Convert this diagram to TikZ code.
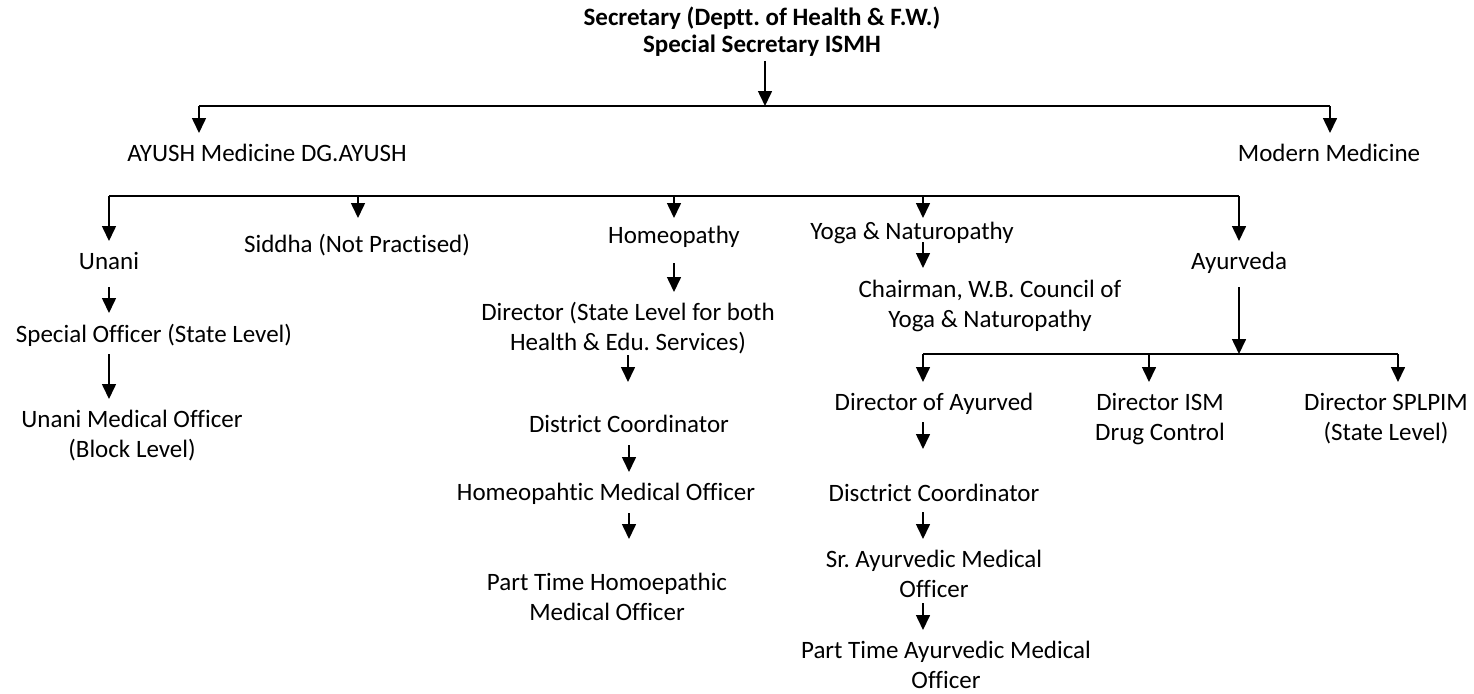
\documentclass[tikz,border=0pt]{standalone}
\usepackage{fontspec}
\setmainfont{Carlito}[Ligatures={NoCommon}]
\usetikzlibrary{arrows.meta}
\frenchspacing
\tikzset{
  txt/.style={inner sep=0pt, outer sep=0pt, align=center, anchor=north, font=\fontsize{25}{30}\selectfont},
  toptxt/.style={inner sep=0pt, outer sep=0pt, align=center, anchor=north, font=\bfseries\fontsize{25}{27}\selectfont},
  ln/.style={line width=1.6pt},
  arr/.style={line width=1.6pt, -{Triangle[length=15pt,width=14pt]}},
}
\begin{document}
\begin{tikzpicture}[x=1pt,y=-1pt]
\useasboundingbox (0,0) rectangle (1474,693);
% nodes
\node[toptxt] (sec) at (762,7) {\strut Secretary (Deptt. of Health \& F.W.)\\\strut Special Secretary ISMH};
\node[txt] (ayush) at (267,140) {\strut AYUSH Medicine DG.AYUSH};
\node[txt] (modern) at (1329,140) {\strut Modern Medicine};
\node[txt] (unani) at (109,248) {\strut Unani};
\node[txt] (siddha) at (357,231) {\strut Siddha (Not Practised)};
\node[txt] (homeo) at (674,222) {\strut Homeopathy};
\node[txt] (yoga) at (912,218) {\strut Yoga \& Naturopathy};
\node[txt] (ayur) at (1239,248) {\strut Ayurveda};
\node[txt] (spo) at (154,321) {\strut Special Officer (State Level)};
\node[txt] (umo) at (132,406) {\strut Unani Medical Officer\\\strut (Block Level)};
\node[txt] (dir) at (628,299) {\strut Director (State Level for both\\\strut Health \& Edu. Services)};
\node[txt] (dc) at (629,411) {\strut District Coordinator};
\node[txt] (hmo) at (606,479) {\strut Homeopahtic Medical Officer};
\node[txt] (pth) at (607,569) {\strut Part Time Homoepathic\\\strut Medical Officer};
\node[txt] (chair) at (990,276) {\strut Chairman, W.B. Council of\\\strut Yoga \& Naturopathy};
\node[txt] (doa) at (934,389) {\strut Director of Ayurved};
\node[txt] (ism) at (1160,389) {\strut Director ISM\\\strut Drug Control};
\node[txt] (spl) at (1386,389) {\strut Director SPLPIM\\\strut (State Level)};
\node[txt] (dcc) at (934,480) {\strut Disctrict Coordinator};
\node[txt] (sr) at (934,546) {\strut Sr. Ayurvedic Medical\\\strut Officer};
\node[txt] (pta) at (946,637) {\strut Part Time Ayurvedic Medical\\\strut Officer};
% bus coordinates
\coordinate (b1) at (765,106);
\coordinate (d1) at (199,106);
\coordinate (d2) at (1330,106);
\coordinate (e1) at (109,196);
\coordinate (e2) at (358,196);
\coordinate (e3) at (674,196);
\coordinate (e4) at (923,196);
\coordinate (e5) at (1239,196);
\coordinate (f0) at (1239,354);
\coordinate (f1) at (923,354);
\coordinate (f2) at (1149,354);
\coordinate (f3) at (1398,354);
% level 1
\draw[arr] (sec.south -| b1) -- (b1);
\draw[ln] (d1) -- (d2);
\draw[arr, shorten >=7pt] (d1) -- (d1 |- ayush.north);
\draw[arr, shorten >=7pt] (d2) -- (d2 |- modern.north);
% level 2
\draw[ln] (e1) -- (e5);
\draw[arr, shorten >=7pt] (e1) -- (e1 |- unani.north);
\draw[arr, shorten >=13pt] (e2) -- (e2 |- siddha.north);
\draw[arr, shorten >=4pt] (e3) -- (e3 |- homeo.north);
\draw[arr] (e4) -- (e4 |- yoga.north);
\draw[arr, shorten >=7pt] (e5) -- (e5 |- ayur.north);
% Unani chain
\draw[arr, shorten <=9pt, shorten >=8pt] (unani.south) -- (unani.south |- spo.north);
\draw[arr, shorten <=3pt, shorten >=7pt] (spo.south -| unani.south) -- (umo.north -| unani.south);
% Homeopathy chain
\draw[arr, shorten <=11pt, shorten >=7pt] (homeo.south) -- (homeo.south |- dir.north);
\draw[arr, shorten <=-4pt, shorten >=29pt] (dir.south) -- (dc.north -| dir.south);
\draw[arr, shorten <=4pt, shorten >=7pt] (dc.south) -- (hmo.north -| dc.south);
\draw[arr, shorten <=4pt, shorten >=30pt] (hmo.south -| dc.south) -- (pth.north -| dc.south);
% Yoga chain
\draw[arr, shorten <=-6pt, shorten >=8pt] (yoga.south -| e4) -- (chair.north -| e4);
% Ayurveda chain
\draw[arr, shorten <=9pt] (ayur.south) -- (f0);
\draw[ln] (f1) -- (f3);
\draw[arr, shorten >=7pt] (f1) -- (f1 |- doa.north);
\draw[arr, shorten >=7pt] (f2) -- (f2 |- ism.north);
\draw[arr, shorten >=7pt] (f3) -- (f3 |- spl.north);
\draw[arr, shorten <=3pt, shorten >=31pt] (doa.south -| f1) -- (dcc.north -| f1);
\draw[arr, shorten <=2pt, shorten >=7pt] (dcc.south -| f1) -- (sr.north -| f1);
\draw[arr, shorten <=-3pt, shorten >=7pt] (sr.south -| f1) -- (pta.north -| f1);
\end{tikzpicture}
\end{document}
